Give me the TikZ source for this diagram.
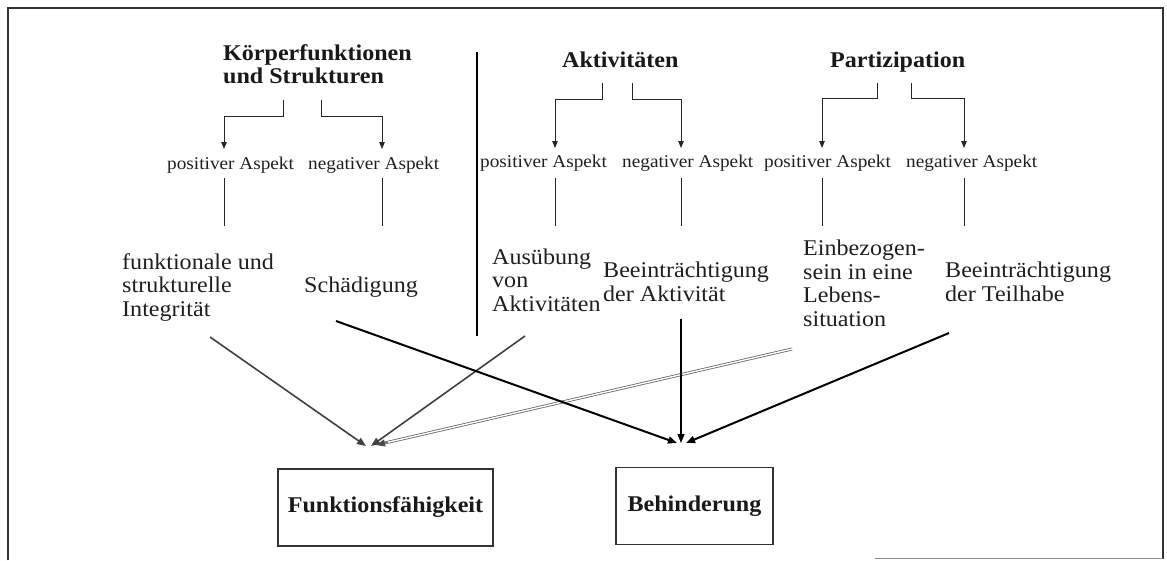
\documentclass[tikz,border=0pt]{standalone}
\usepackage{fontspec}
\setmainfont{Liberation Serif}[FakeStretch=1.07]
\usetikzlibrary{arrows.meta,calc}
\tikzset{
  txt/.style={anchor=base west, inner sep=0pt, align=left, font=\fontsize{22.5}{23.5}\selectfont, text=black!88},
  head/.style={anchor=base west, inner sep=0pt, align=left, font=\fontsize{22.5}{23}\selectfont\bfseries, text=black!90},
  asp/.style={anchor=base west, inner sep=0pt, font=\fontsize{18}{20}\selectfont, text=black!88},
  resbox/.style={draw=black!80, line width=1.1pt, inner sep=0pt, minimum height=77pt, font=\fontsize{22.5}{23}\selectfont\bfseries, text=black!90},
  brk/.style={draw=black!85, line width=1pt},
  brkarr/.style={brk, -{Triangle[length=7pt,width=5.5pt]}},
  thinarr/.style={draw=black!75, line width=1.6pt, -{Triangle[length=9pt,width=7pt]}},
  dblline/.style={draw=black!60, double=white, double distance=1.4pt, line width=0.8pt},
  headonly/.style={draw=black!70, line width=0.8pt, -{Triangle[length=9pt,width=7pt]}},
  thickarr/.style={draw=black, line width=2pt, -{Triangle[length=9pt,width=7pt]}},
  midarr/.style={draw=black, line width=1.4pt, -{Triangle[length=9pt,width=7pt]}},
}
\begin{document}
\begin{tikzpicture}[x=1pt,y=-1pt]
\useasboundingbox (0,0) rectangle (1167,560);
% frame
\draw[black!80, line width=1.2pt] (8,560) -- (8,8) -- (1163,8) -- (1163,559);
\draw[black!45, line width=1pt] (875,558) -- (1163,558);
% separator
\coordinate (sepT) at (477,52);
\coordinate (sepB) at (477,336);
\draw[black, line width=1.6pt] (sepT) -- (sepB);

% headings (base = baseline of last line)
\node[head] (koerper) at (223,83) {Körperfunktionen\\und Strukturen};
\node[head] (akt) at (562,67) {Aktivitäten};
\node[head] (part) at (830,67) {Partizipation};

% aspects
\node[asp] (kpos) at (167,169) {positiver Aspekt};
\node[asp] (kneg) at (308,169) {negativer Aspekt};
\node[asp] (apos) at (480,167) {positiver Aspekt};
\node[asp] (aneg) at (622,167) {negativer Aspekt};
\node[asp] (ppos) at (764,167) {positiver Aspekt};
\node[asp] (pneg) at (906,167) {negativer Aspekt};

% bracket start / tip coordinates
\coordinate (k1) at (283,100); \coordinate (k1t) at (224,149);
\coordinate (k2) at (321,100); \coordinate (k2t) at (382,149);
\coordinate (a1) at (602,83);  \coordinate (a1t) at (555,148);
\coordinate (a2) at (632,83);  \coordinate (a2t) at (681,148);
\coordinate (p1) at (877,83);  \coordinate (p1t) at (822,148);
\coordinate (p2) at (911,83);  \coordinate (p2t) at (964,148);

\draw[brkarr] (k1) -- (k1 |- 0,116) -| (k1t);
\draw[brkarr] (k2) -- (k2 |- 0,116) -| (k2t);
\draw[brkarr] (a1) -- (a1 |- 0,99) -| (a1t);
\draw[brkarr] (a2) -- (a2 |- 0,99) -| (a2t);
\draw[brkarr] (p1) -- (p1 |- 0,98) -| (p1t);
\draw[brkarr] (p2) -- (p2 |- 0,98) -| (p2t);

% lines below aspects
\foreach \x in {224,382,555,681,822,964} {
  \draw[brk] (\x,178) -- (\x,226);
}

% outcome texts (base = baseline of last line)
\node[txt] (integ) at (122,316) {funktionale und\\strukturelle\\Integrität};
\node[txt] (schaed) at (304,292) {Schädigung};
\node[txt] (ausueb) at (492,311) {Ausübung\\von\\Aktivitäten};
\node[txt] (beakt) at (603,301) {Beeinträchtigung\\der Aktivität};
\node[txt] (einbez) at (803,326) {Einbezogen-\\sein in eine\\Lebens-\\situation};
\node[txt] (beteil) at (945,301) {Beeinträchtigung\\der Teilhabe};

% result boxes
\node[resbox, minimum width=215pt] (ff) at (385.5,507.5) {Funktionsfähigkeit};
\node[resbox, minimum width=157pt] (beh) at (694.5,506) {Behinderung};

% arrow coordinates
\coordinate (sInteg) at (210,337);
\coordinate (sAus) at (525,336);
\coordinate (sEin) at (792,349);
\coordinate (sSch) at (336,321);
\coordinate (sBa) at (681,319);
\coordinate (sTe) at (949,333);
\coordinate (tFF) at (369,446);
\coordinate (tBeh) at (681,443);
\coordinate (tEin) at (376,445);

\draw[thinarr] (sInteg) -- ($(tFF)+(-3,0)$);
\draw[thinarr] (sAus) -- ($(tFF)+(2,0)$);
\draw[dblline] (sEin) -- ($(tEin)!8pt!(sEin)$);
\draw[headonly] ($(tEin)!12pt!(sEin)$) -- (tEin);
\draw[thickarr] (sSch) -- ($(tBeh)+(-4,0)$);
\draw[midarr] (sBa) -- (tBeh);
\draw[thickarr] (sTe) -- ($(tBeh)+(5,0)$);
\end{tikzpicture}
\end{document}
